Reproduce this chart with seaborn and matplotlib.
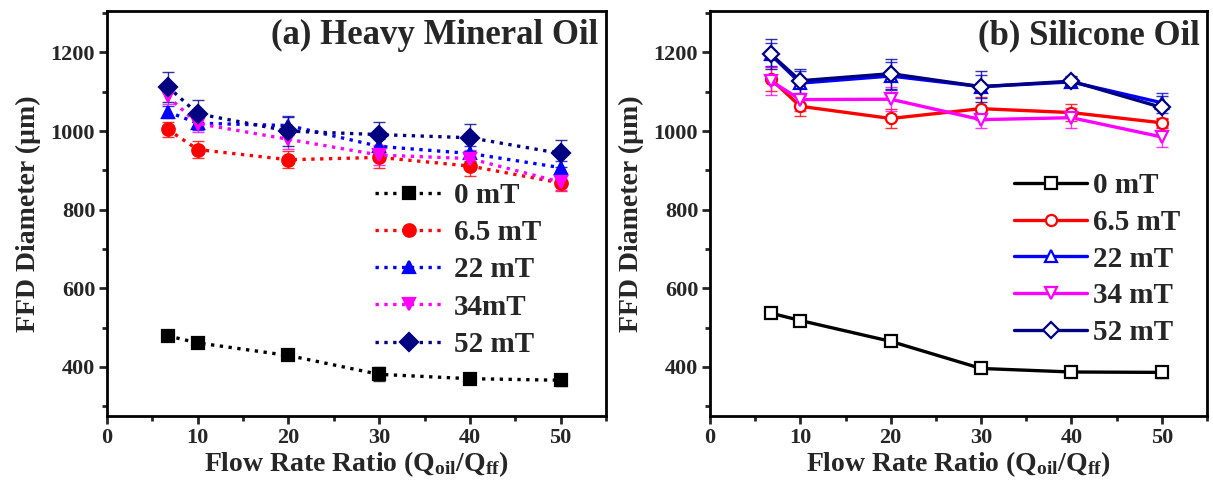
import numpy as np
import pandas as pd
import matplotlib
matplotlib.use("Agg")
import matplotlib.pyplot as plt
from matplotlib.ticker import MultipleLocator
import seaborn as sns

# ---------------- data ----------------
ratios = [6.7, 10, 20, 30, 40, 50]
fields = ["0 mT", "6.5 mT", "22 mT", "34 mT", "52 mT"]
labels_a = ["0 mT", "6.5 mT", "22 mT", "34mT", "52 mT"]
labels_b = ["0 mT", "6.5 mT", "22 mT", "34 mT", "52 mT"]

# (a) Heavy mineral oil
a_0 = [479, 461, 429, 381, 370, 366]
a_65 = [1004, 953, 927, 933, 911, 868]
a_22 = [1049, 1020, 1014, 961, 943, 907]
a_34 = [1088, 1019, 979, 939, 930, 870]
a_52 = [1113, 1044, 1000, 991, 983, 943]
a_0_err = [10, 8, 12, 18, 14, 15]
a_65_err = [20, 22, 22, 28, 25, 20]
a_22_err = [15, 18, 25, 20, 20, 18]
a_34_err = [20, 22, 25, 25, 22, 20]
a_52_err = [38, 35, 37, 33, 35, 34]

# (b) Silicone oil
b_0 = [537, 518, 465, 396, 387, 386]
b_65 = [1133, 1063, 1032, 1057, 1047, 1021]
b_22 = [1195, 1122, 1140, 1113, 1125, 1072]
b_34 = [1128, 1080, 1081, 1029, 1034, 985]
b_52 = [1196, 1128, 1146, 1113, 1127, 1060]
b_0_err = [6, 8, 8, 8, 6, 15]
b_65_err = [30, 25, 25, 30, 22, 12]
b_22_err = [30, 30, 35, 30, 12, 25]
b_34_err = [35, 30, 30, 20, 25, 25]
b_52_err = [38, 30, 38, 40, 12, 30]

colors = ["#000000", "#FF0000", "#0000FF", "#FF00FF", "#000080"]
markers_a = ["s", "o", "^", "v", "D"]
markers_b = ["s", "o", "^", "v", "D"]

# ---------------- style ----------------
sns.set_style("ticks")
plt.rcParams["font.family"] = ["Liberation Serif", "DejaVu Serif"]
plt.rcParams["font.weight"] = "bold"
plt.rcParams["mathtext.fontset"] = "custom"
plt.rcParams["mathtext.rm"] = "Liberation Serif:bold"
plt.rcParams["mathtext.it"] = "Liberation Serif:bold"
plt.rcParams["mathtext.bf"] = "Liberation Serif:bold"

fig = plt.figure(figsize=(12.13, 4.86), dpi=100)
axA = fig.add_axes([0.0882, 0.144, 0.4114, 0.833])
axB = fig.add_axes([0.5853, 0.144, 0.4097, 0.833])


def draw(ax, series, errs, labels, markers, ls, filled, ms):
    for y, e, lab, c, m in zip(series, errs, labels, colors, markers):
        df = pd.DataFrame({"ratio": ratios, "d": y})
        ax.errorbar(ratios, y, yerr=e, fmt="none", ecolor=c, elinewidth=1.0,
                    capsize=4, capthick=1.0, alpha=0.8, zorder=2)
        kw = dict(marker=m, markersize=ms, markeredgecolor=c, markeredgewidth=1.6)
        if filled:
            kw["markerfacecolor"] = c
        else:
            kw["markerfacecolor"] = "white"
        sns.lineplot(data=df, x="ratio", y="d", ax=ax, color=c, linestyle=ls,
                     linewidth=2.4, label=lab, zorder=3, **kw)


draw(axA, [a_0, a_65, a_22, a_34, a_52],
     [a_0_err, a_65_err, a_22_err, a_34_err, a_52_err],
     labels_a, markers_a, ":", True, 9)
draw(axB, [b_0, b_65, b_22, b_34, b_52],
     [b_0_err, b_65_err, b_22_err, b_34_err, b_52_err],
     labels_b, markers_b, "-", False, 8)

for ax, title in [(axA, "(a) Heavy Mineral Oil"), (axB, "(b) Silicone Oil")]:
    ax.set_xlim(0, 55)
    ax.set_ylim(275, 1305)
    ax.xaxis.set_major_locator(MultipleLocator(10))
    ax.xaxis.set_minor_locator(MultipleLocator(5))
    ax.yaxis.set_major_locator(MultipleLocator(200))
    ax.yaxis.set_minor_locator(MultipleLocator(100))
    ax.tick_params(which="major", direction="out", length=6, width=2,
                   labelsize=16, top=False, right=False, pad=2.5)
    ax.tick_params(which="minor", direction="out", length=3.5, width=2,
                   top=False, right=False)
    for lab in ax.get_xticklabels() + ax.get_yticklabels():
        lab.set_fontweight("bold")
    for s in ax.spines.values():
        s.set_visible(True)
        s.set_linewidth(2)
        s.set_color("black")
    ax.set_xlabel(r"Flow Rate Ratio (Q$_{\mathrm{oil}}$/Q$_{\mathrm{ff}}$)",
                  fontsize=20, fontweight="bold", labelpad=1)
    ax.set_ylabel("FFD Diameter (\u00b5m)", fontsize=20, fontweight="bold", labelpad=7)
    ax.text(0.985, 0.94, title, transform=ax.transAxes, ha="right", va="center",
            fontsize=25, fontweight="bold")

axA.legend(loc="upper left", bbox_to_anchor=(0.537, 0.578), frameon=False,
           prop={"size": 21, "weight": "bold"}, handlelength=2.3,
           handletextpad=0.4, labelspacing=0.35, borderpad=0, borderaxespad=0)
axB.legend(loc="upper left", bbox_to_anchor=(0.612, 0.602), frameon=False,
           prop={"size": 21, "weight": "bold"}, handlelength=2.5,
           handletextpad=0.2, labelspacing=0.33, borderpad=0, borderaxespad=0)

fig.savefig("out.png", dpi=100)
